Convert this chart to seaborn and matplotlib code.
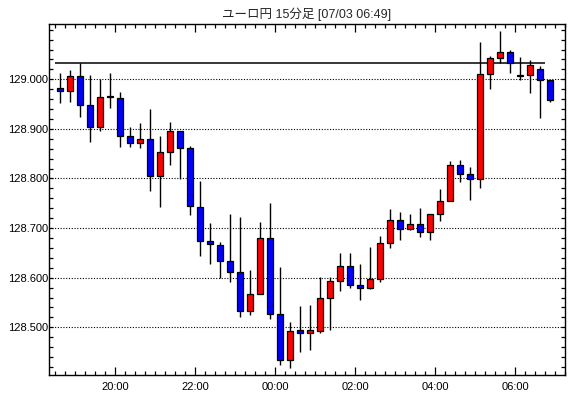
import numpy as np
import matplotlib
matplotlib.use("Agg")
import matplotlib.pyplot as plt
import matplotlib.dates as mdates
from matplotlib.ticker import MultipleLocator, FormatStrFormatter
import seaborn as sns
import pandas as pd

# 15-minute candles, EUR/JPY, 18:30 -> 06:45
start = "2025-07-02 18:30"
n_bars = 50
opens = [128.983, 128.976, 129.006, 128.949, 128.904, 128.965, 128.963, 128.885, 128.871, 128.879,
         128.806, 128.853, 128.895, 128.861, 128.743, 128.673, 128.665, 128.633, 128.611, 128.533,
         128.567, 128.681, 128.527, 128.434, 128.494, 128.488, 128.492, 128.559, 128.593, 128.623,
         128.585, 128.579, 128.597, 128.669, 128.716, 128.698, 128.708, 128.692, 128.728, 128.754,
         128.827, 128.810, 128.798, 129.010, 129.042, 129.056, 129.007, 129.009, 129.020, 128.999]
highs = [129.013, 129.018, 129.032, 129.008, 129.001, 129.013, 128.974, 128.903, 128.912, 128.940,
         128.885, 128.913, 128.896, 128.865, 128.795, 128.710, 128.672, 128.728, 128.722, 128.616,
         128.712, 128.750, 128.622, 128.511, 128.542, 128.544, 128.602, 128.602, 128.649, 128.649,
         128.627, 128.662, 128.684, 128.738, 128.732, 128.728, 128.740, 128.728, 128.778, 128.835,
         128.837, 128.823, 129.076, 129.046, 129.097, 129.060, 129.045, 129.038, 129.026, 128.999]
lows = [128.952, 128.954, 128.924, 128.874, 128.895, 128.943, 128.864, 128.863, 128.861, 128.775,
        128.742, 128.828, 128.798, 128.727, 128.644, 128.628, 128.599, 128.592, 128.520, 128.524,
        128.567, 128.516, 128.423, 128.417, 128.450, 128.455, 128.488, 128.494, 128.574, 128.580,
        128.556, 128.577, 128.591, 128.659, 128.675, 128.696, 128.683, 128.677, 128.715, 128.754,
        128.793, 128.757, 128.781, 128.980, 129.032, 129.013, 128.999, 128.972, 128.922, 128.954]
closes = [128.976, 129.006, 128.949, 128.904, 128.965, 128.965, 128.886, 128.871, 128.879, 128.806,
          128.853, 128.895, 128.861, 128.744, 128.673, 128.667, 128.633, 128.611, 128.533, 128.567,
          128.681, 128.527, 128.434, 128.492, 128.488, 128.494, 128.559, 128.593, 128.623, 128.585,
          128.579, 128.597, 128.669, 128.716, 128.698, 128.708, 128.692, 128.728, 128.755, 128.827,
          128.810, 128.798, 129.011, 129.042, 129.056, 129.032, 129.007, 129.028, 128.999, 128.958]
ref_level = 129.032
price_ticks = [128.5, 128.6, 128.7, 128.8, 128.9, 129.0]
title = "ユーロ円 15分足 [07/03 06:49]"

df = pd.DataFrame({"open": opens, "high": highs, "low": lows, "close": closes},
                  index=pd.date_range(start, periods=n_bars, freq="15min"))
slot = pd.Timedelta(minutes=15)
df["mid"] = df.index + slot / 2
df["body_lo"] = df[["open", "close"]].min(axis=1)
df["body_h"] = (df["close"] - df["open"]).abs()
df["color"] = np.where(df["close"] > df["open"], "#ff0000",
                       np.where(df["close"] < df["open"], "#0000ff", "black"))
df.loc[df["body_h"] == 0, "body_h"] = 0.0012

sns.set_style("ticks")
plt.rcParams["font.family"] = ["Liberation Sans", "Noto Sans CJK JP", "DejaVu Sans"]

fig = plt.figure(figsize=(5.70, 3.98), dpi=100)
ax = fig.add_axes([49.3 / 570, 1 - 375.3 / 398, 516 / 570, 351 / 398])

ax.vlines(df["mid"], df["low"], df["high"], color="black", lw=1.0, zorder=3)
bw = (slot * 0.6) / pd.Timedelta(days=1)
ax.bar(df["mid"], df["body_h"], bottom=df["body_lo"], width=bw,
       color=df["color"], edgecolor="black", linewidth=0.9, zorder=4)
ax.hlines(ref_level, df.index[0], df.index[-1], color="black", lw=1.1, zorder=2)

ax.set_ylim(128.4032, 129.1109)
ax.set_xlim(df.index[0] - slot * 0.6, df.index[0] + slot * 51)

ax.set_yticks(price_ticks)
ax.yaxis.set_minor_locator(MultipleLocator(0.02))
ax.yaxis.set_major_formatter(FormatStrFormatter("%.3f"))
ax.xaxis.set_major_locator(mdates.HourLocator(byhour=range(0, 24, 2)))
ax.xaxis.set_minor_locator(mdates.MinuteLocator(byminute=[0, 15, 30, 45]))
ax.xaxis.set_major_formatter(mdates.DateFormatter("%H:%M"))

ax.grid(axis="y", which="major", color="black", linestyle=(0, (1, 1.5)), lw=0.8)
ax.tick_params(axis="both", which="both", direction="in", top=True, right=True,
               color="black", width=0.9, labelsize=8, labelcolor="black")
ax.tick_params(axis="y", which="both", length=3, pad=1)
ax.tick_params(axis="x", which="minor", length=3)
ax.tick_params(axis="x", which="major", length=6, pad=5)
for s in ax.spines.values():
    s.set_color("black")
    s.set_linewidth(1.0)
ax.set_xlabel("")
ax.set_ylabel("")

fig.text(307 / 570, 1 - 14 / 398, title, ha="center", va="center", fontsize=9)

fig.savefig("out.png", dpi=100, facecolor="white")
